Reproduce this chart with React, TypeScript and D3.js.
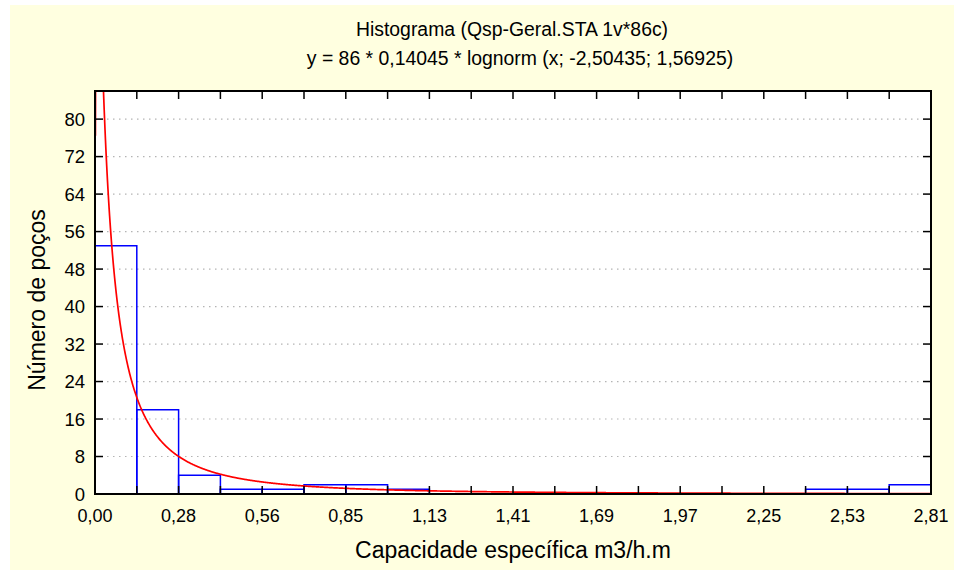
import React from "react";
import * as d3 from "d3";

const titleLines = ["Histograma (Qsp-Geral.STA 1v*86c)", "y = 86 * 0,14045 * lognorm (x; -2,50435; 1,56925)"];
const xAxisTitle = "Capacidade específica m3/h.m";
const yAxisTitle = "Número de poços";
const binWidth = 0.14045;
const binCounts = [53, 18, 4, 1, 1, 2, 2, 1, 0, 0, 0, 0, 0, 0, 0, 0, 0, 1, 1, 2];
const xTickLabels = ["0,00", "0,28", "0,56", "0,85", "1,13", "1,41", "1,69", "1,97", "2,25", "2,53", "2,81"];
const yTicks = [0, 8, 16, 24, 32, 40, 48, 56, 64, 72, 80];
const fitN = 86;
const fitMu = -2.50435;
const fitSigma = 1.56925;

const W = 954, H = 570;
const L = 95, R = 931, T = 91, B = 494;

export default function App() {
  const xMax = binWidth * binCounts.length;
  const x = d3.scaleLinear().domain([0, xMax]).range([L, R]);
  const y = d3.scaleLinear().domain([0, 86]).range([B, T]);
  const edges = d3.range(binCounts.length + 1).map((i) => i * binWidth);

  const pdf = (v: number) =>
    (1 / (v * fitSigma * Math.sqrt(2 * Math.PI))) * Math.exp(-((Math.log(v) - fitMu) ** 2) / (2 * fitSigma * fitSigma));
  const xs = d3.range(1, 2001).map((i) => (i / 2000) * xMax);
  const line = d3
    .line<number>()
    .x((v) => x(v))
    .y((v) => y(fitN * binWidth * pdf(v)));
  const font = "'Liberation Sans', Arial, sans-serif";

  return (
    <div style={{ position: "absolute", left: 0, top: 0 }}>
      <svg width={W} height={H} style={{ display: "block" }}>
        <rect x={0} y={0} width={W} height={H} fill="#ffffff" />
        <rect x={10} y={5} width={W - 10} height={H - 5} fill="#ffffe0" />
        <rect x={L} y={T} width={R - L} height={B - T} fill="#ffffff" />
        <defs>
          <clipPath id="plotclip">
            <rect x={L} y={T} width={R - L} height={B - T} />
          </clipPath>
        </defs>
        {yTicks.filter((t) => t > 0).map((t) => (
          <line key={"g" + t} x1={L + 12} x2={R - 8} y1={y(t)} y2={y(t)} stroke="#b4b4b4" strokeWidth={1.2} strokeDasharray="1.5,4.5" />
        ))}
        <g clipPath="url(#plotclip)">
          {binCounts.map((c, i) => (
            <path
              key={"b" + i}
              d={`M${x(edges[i])},${y(0)}V${y(c)}H${x(edges[i + 1])}V${y(0)}`}
              fill="none"
              stroke="#0000ff"
              strokeWidth={1.5}
            />
          ))}
          <path d={line(xs) || ""} fill="none" stroke="#ff0000" strokeWidth={1.7} />
        </g>
        {edges.map((e, i) => (
          <g key={"t" + i}>
            <line x1={x(e)} x2={x(e)} y1={B} y2={B - 8} stroke="#000" strokeWidth={1.5} />
            <line x1={x(e)} x2={x(e)} y1={T} y2={T + 8} stroke="#000" strokeWidth={1.5} />
          </g>
        ))}
        {yTicks.map((t) => (
          <g key={"y" + t}>
            <line x1={L} x2={L + 8} y1={y(t)} y2={y(t)} stroke="#000" strokeWidth={1.5} />
            <line x1={R} x2={R - 8} y1={y(t)} y2={y(t)} stroke="#000" strokeWidth={1.5} />
            <text x={L - 10} y={y(t)} dy="0.36em" textAnchor="end" fontFamily={font} fontSize={18.5} fill="#000">
              {t}
            </text>
          </g>
        ))}
        {xTickLabels.map((lab, i) => (
          <text key={"xl" + i} x={x(edges[i * 2])} y={B + 28} textAnchor="middle" fontFamily={font} fontSize={18} fill="#000">
            {lab}
          </text>
        ))}
        <rect x={L} y={T} width={R - L} height={B - T} fill="none" stroke="#000" strokeWidth={2} />
        <text x={512} y={36} textAnchor="middle" fontFamily={font} fontSize={19.4} fill="#000">
          {titleLines[0]}
        </text>
        <text x={520} y={65} textAnchor="middle" fontFamily={font} fontSize={19.4} fill="#000">
          {titleLines[1]}
        </text>
        <text x={513} y={558} textAnchor="middle" fontFamily={font} fontSize={23} fill="#000">
          {xAxisTitle}
        </text>
        <text transform={`translate(45,300) rotate(-90)`} textAnchor="middle" fontFamily={font} fontSize={23} fill="#000">
          {yAxisTitle}
        </text>
      </svg>
    </div>
  );
}
